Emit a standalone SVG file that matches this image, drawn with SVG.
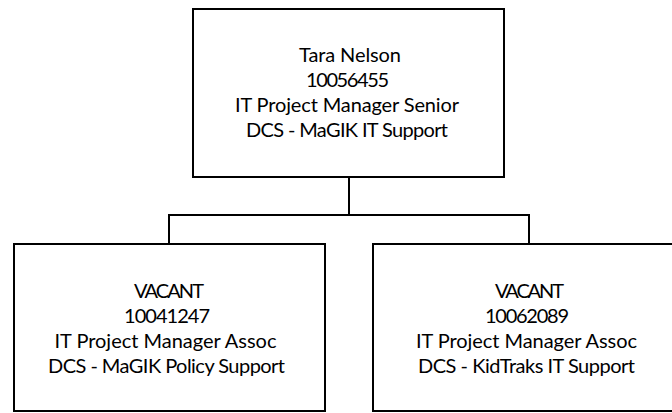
<svg xmlns="http://www.w3.org/2000/svg" width="672" height="413" viewBox="0 0 672 413">
  <style>
    .box { fill: #ffffff; stroke: #000000; stroke-width: 2; }
    .link { fill: none; stroke: #000000; stroke-width: 2; }
    .label { font-family: Lato, "Liberation Sans", sans-serif; font-size: 20px; fill: #000000; text-anchor: middle; }
  </style>
  <rect width="672" height="413" fill="#ffffff"/>

  <!-- reporting lines -->
  <g id="connectors">
    <path class="link" d="M349 177 V215"/>
    <path class="link" d="M169 244 V215 H529 V244"/>
  </g>

  <!-- manager -->
  <g id="node-tara-nelson">
    <rect class="box" x="193" y="9" width="311" height="168"/>
    <text class="label" x="350" y="62" textLength="102" lengthAdjust="spacing">Tara Nelson</text>
    <text class="label" x="347.5" y="87" textLength="83" lengthAdjust="spacing">10056455</text>
    <text class="label" x="347" y="112" textLength="224" lengthAdjust="spacing">IT Project Manager Senior</text>
    <text class="label" x="347" y="137" textLength="202" lengthAdjust="spacing">DCS - MaGIK IT Support</text>
  </g>

  <!-- direct report: policy support -->
  <g id="node-vacant-10041247">
    <rect class="box" x="14" y="244" width="311" height="167"/>
    <text class="label" x="169" y="298" textLength="70" lengthAdjust="spacing">VACANT</text>
    <text class="label" x="167" y="323" textLength="86" lengthAdjust="spacing">10041247</text>
    <text class="label" x="165.5" y="348" textLength="222" lengthAdjust="spacing">IT Project Manager Assoc</text>
    <text class="label" x="166.5" y="373" textLength="237" lengthAdjust="spacing">DCS - MaGIK Policy Support</text>
  </g>

  <!-- direct report: KidTraks support -->
  <g id="node-vacant-10062089">
    <rect class="box" x="373" y="244" width="311" height="167"/>
    <text class="label" x="529.5" y="298" textLength="69" lengthAdjust="spacing">VACANT</text>
    <text class="label" x="527" y="323" textLength="84" lengthAdjust="spacing">10062089</text>
    <text class="label" x="526.5" y="348" textLength="221" lengthAdjust="spacing">IT Project Manager Assoc</text>
    <text class="label" x="526.5" y="373" textLength="217" lengthAdjust="spacing">DCS - KidTraks IT Support</text>
  </g>
</svg>
